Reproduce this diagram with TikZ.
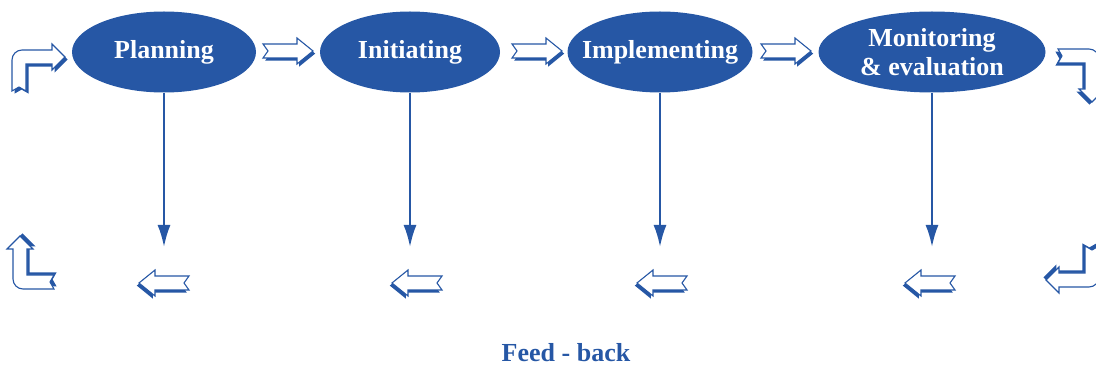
\documentclass[tikz,border=0pt]{standalone}
\usepackage{fontspec}
\setmainfont{Liberation Serif}
\usetikzlibrary{shapes.geometric, arrows.meta, positioning}
\definecolor{planblue}{RGB}{38,87,165}

\begin{document}
\begin{tikzpicture}[x=1pt, y=1pt, node distance=250pt]
\tikzstyle{phase} = [ellipse, fill=planblue, text=white, font=\bfseries\fontsize{26}{29}\selectfont, inner sep=0pt, minimum height=81pt, align=center]
\tikzstyle{fbline} = [draw=planblue, line width=2.2pt, -{Latex[length=22pt, width=13pt]}]
\tikzstyle{hollow} = [fill=white, draw=planblue, line width=1.1pt]
\tikzstyle{arrowshade} = [fill=planblue]
\tikzset{
  flowarrow/.pic={
    \path[arrowshade, shift={(2.2,-2.6)}] (-25,7) -- (9,7) -- (9,13) -- (25,0) -- (9,-13) -- (9,-7) -- (-25,-7) -- (-20,0) -- cycle;
    \path[hollow] (-25,7) -- (9,7) -- (9,13) -- (25,0) -- (9,-13) -- (9,-7) -- (-25,-7) -- (-20,0) -- cycle;
  },
  bentarrow/.pic={
    \path[arrowshade, shift={(2.6,-2.6)}] (-7,-34) -- (-7,-3) arc[start angle=180, end angle=90, radius=10] -- (33,7) -- (33,13) -- (46,0) -- (33,-13) -- (33,-7) -- (7,-7) -- (7,-34) -- (0,-30) -- cycle;
    \path[hollow] (-7,-34) -- (-7,-3) arc[start angle=180, end angle=90, radius=10] -- (33,7) -- (33,13) -- (46,0) -- (33,-13) -- (33,-7) -- (7,-7) -- (7,-34) -- (0,-30) -- cycle;
  }
}
\useasboundingbox (0,0) rectangle (1096,367);

 % phases
\node (plan) [phase, minimum width=184pt] at (164,315) {Planning};
\node (init) [phase, minimum width=180pt, right of=plan, xshift=-4pt] {Initiating};
\node (impl) [phase, minimum width=185pt, inner xsep=-14pt, right of=init] {Implementing};
\node (mon) [phase, minimum width=227pt, right of=impl, xshift=22pt] {Monitoring\\\& evaluation};
\node (feed) [text=planblue, font=\bfseries\fontsize{26}{29}\selectfont] at (566,14) {Feed - back};

\coordinate (planend) at (plan.south |- 0,120);
\coordinate (initend) at (init.south |- 0,120);
\coordinate (implend) at (impl.south |- 0,120);
\coordinate (monend) at (mon.south |- 0,120);

 % block arrows
\pic (arrA) at (288,316) {flowarrow};
\pic (arrB) at (537,316) {flowarrow};
\pic (arrC) at (786,316) {flowarrow};
\pic[xscale=-1] (fbA) at (164,84) {flowarrow};
\pic[xscale=-1] (fbB) at (417,84) {flowarrow};
\pic[xscale=-1] (fbC) at (662,84) {flowarrow};
\pic[xscale=-1] (fbD) at (930,84) {flowarrow};
\pic (cornerA) at (19,310) {bentarrow};
\pic[rotate=-90] (cornerB) at (1092,311) {bentarrow};
\pic[rotate=180] (cornerC) at (1092,87) {bentarrow};
\pic[rotate=90] (cornerD) at (20,85) {bentarrow};

 % connectors
\draw [fbline](plan.south) -- (planend);
\draw [fbline](init.south) -- (initend);
\draw [fbline](impl.south) -- (implend);
\draw [fbline](mon.south) -- (monend);
\end{tikzpicture}
\end{document}
